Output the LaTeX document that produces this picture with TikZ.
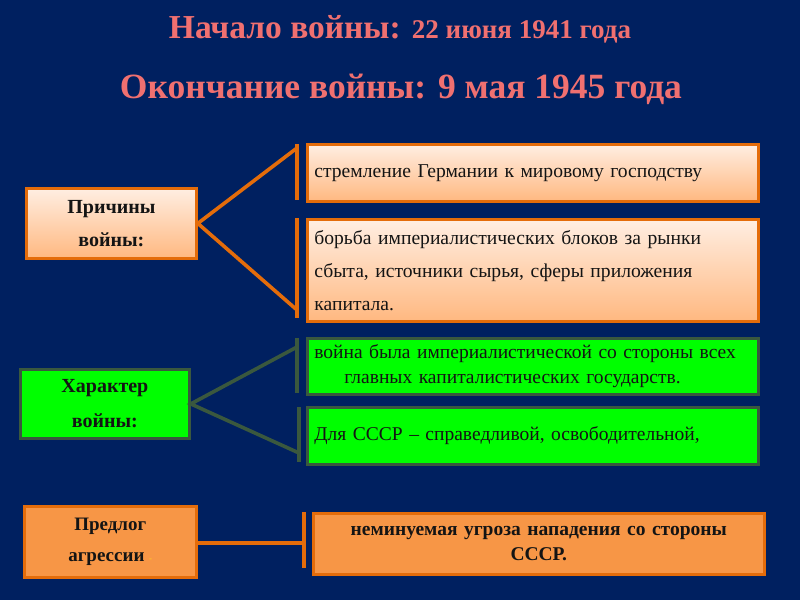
\documentclass[tikz,border=0pt]{standalone}
\usepackage{fontspec}
\setmainfont{Liberation Serif}
\usetikzlibrary{shadows}
\definecolor{bg}{RGB}{0,32,96}
\definecolor{titlecol}{RGB}{240,112,112}
\definecolor{peachtop}{RGB}{255,238,226}
\definecolor{peachbot}{RGB}{255,184,128}
\definecolor{orline}{RGB}{228,108,10}
\definecolor{greenfill}{RGB}{0,255,0}
\definecolor{greenline}{RGB}{58,88,62}
\definecolor{orfill}{RGB}{247,150,70}
\definecolor{txt}{RGB}{20,20,20}
\definecolor{dashyellow}{RGB}{255,200,40}
\tikzset{
  boxbase/.style={anchor=north west, rectangle, inner sep=0pt, text=txt,
    drop shadow={opacity=0.45, shadow xshift=2pt, shadow yshift=-2pt}},
  peachbox/.style={boxbase, draw=orline, line width=2.8pt, top color=peachtop, bottom color=peachbot},
  greenbox/.style={boxbase, draw=greenline, line width=2.8pt, fill=greenfill},
  orbox/.style={boxbase, draw=orline, line width=2.6pt, fill=orfill},
  orconn/.style={draw=orline, line width=3.6pt},
  grconn/.style={draw=greenline, line width=3.6pt},
  titletext/.style={text=titlecol, font=\bfseries, anchor=base, inner sep=0pt},
}
\begin{document}
\begin{tikzpicture}[x=1pt,y=-1pt]
\fill[bg] (0,0) rectangle (800,600);
\useasboundingbox (0,0) rectangle (800,600);

% titles
\node[titletext] (t1) at (400,38) {\fontsize{33.5}{36}\selectfont Начало войны: \fontsize{27}{30}\selectfont 22 июня 1941 года};
\node[titletext] (t2) at (401,98) {\fontsize{35.5}{38}\selectfont Окончание войны: 9 мая 1945 года};

% causes
\node[peachbox, minimum width=170pt, minimum height=70pt, align=center,
  font=\fontsize{20}{33}\selectfont\bfseries] (cause) at (25,187) {Причины\\войны:};
\node[peachbox, minimum width=451pt, minimum height=57pt, align=left, text width=437pt,
  inner xsep=7pt, font=\fontsize{19.6}{33}\selectfont] (c1) at (306,143) {стремление Германии к мировому господству};
\node[peachbox, minimum width=451pt, minimum height=102pt, align=left, text width=437pt,
  inner xsep=7pt, font=\fontsize{19.6}{33}\selectfont] (c2) at (306,218) {борьба империалистических блоков за рынки\\сбыта, источники сырья, сферы приложения\\капитала.};

\coordinate (c1t) at (297,144);
\coordinate (c1b) at (297,200);
\coordinate (c1j) at (297,148);
\coordinate (c2t) at (297,218);
\coordinate (c2b) at (297,318);
\coordinate (c2j) at (297,310);
\draw[orconn] (c1t) -- (c1b);
\draw[orconn] (c2t) -- (c2b);
\draw[orconn, line join=miter] (c1j) -- (cause.east) -- (c2j);

% character
\node[greenbox, minimum width=169pt, minimum height=69pt, align=center,
  font=\fontsize{20}{35}\selectfont\bfseries] (nature) at (19,368) {Характер\\войны:};
\node[greenbox, minimum width=449pt, minimum height=56pt, align=left, text width=437pt,
  inner xsep=7pt, font=\fontsize{19.5}{25}\selectfont] (n1) at (306,337) {война была империалистической со стороны всех\\\hspace*{30pt}главных капиталистических государств.};
\node[greenbox, minimum width=451pt, minimum height=57pt, align=left, text width=437pt,
  inner xsep=7pt, font=\fontsize{19.5}{25}\selectfont] (n2) at (306,406) {Для СССР -- справедливой, освободительной,};

\coordinate (n1t) at (297,338);
\coordinate (n1b) at (297,393);
\coordinate (n1j) at (297,347);
\coordinate (n2t) at (299,407);
\coordinate (n2b) at (299,462);
\coordinate (n2j) at (299,453);
\draw[grconn] (n1t) -- (n1b);
\draw[grconn] (n2t) -- (n2b);
\draw[grconn] (n1j) -- (nature.east) -- (n2j);

% pretext
\node[orbox, minimum width=172pt, minimum height=71pt, align=center,
  font=\fontsize{19}{31}\selectfont\bfseries] (pretext) at (23,505) {Предлог\\агрессии {\color{dashyellow}\fontsize{9}{9}\selectfont -}};
\node[orbox, minimum width=451pt, minimum height=61pt, align=center, text width=440pt,
  font=\fontsize{19.5}{25}\selectfont\bfseries] (p1) at (312,512) {неминуемая угроза нападения со стороны\\СССР.};

\coordinate (pt) at (304,512);
\coordinate (pb) at (304,568);
\coordinate (pj) at (304,543);
\draw[orconn] (pt) -- (pb);
\draw[orconn] (pretext.east |- pj) -- (pj);
\end{tikzpicture}
\end{document}
